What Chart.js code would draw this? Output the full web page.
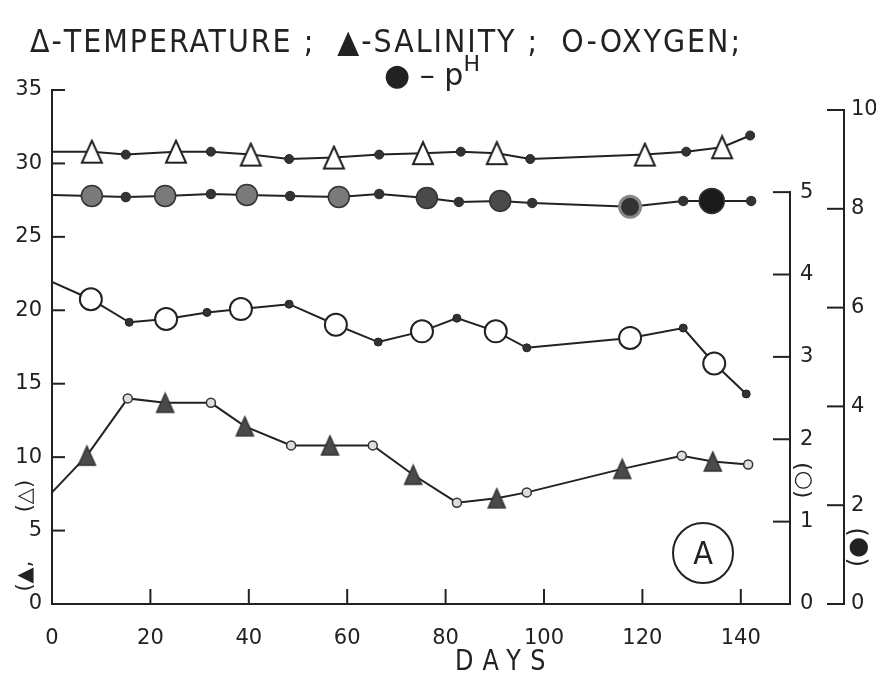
<!DOCTYPE html>
<html><head><meta charset="utf-8">
<script src="https://cdn.jsdelivr.net/npm/chart.js@4.4.0/dist/chart.umd.min.js"></script>
<style>
html,body{margin:0;padding:0;background:#fff;}
#wrap{position:relative;width:876px;height:673px;overflow:hidden;background:#fff;}
canvas{position:absolute;left:0;top:0;}
.t{position:absolute;color:#222;font-family:"Liberation Sans Narrow","DejaVu Sans Condensed","DejaVu Sans",sans-serif;white-space:nowrap;line-height:1;transform-origin:0 0;}
#circA{position:absolute;left:672px;top:522px;width:62px;height:62px;border:2px solid #222;border-radius:50%;box-sizing:border-box;
  font-family:"Liberation Sans Narrow","DejaVu Sans Condensed",sans-serif;font-size:32px;color:#222;text-align:center;line-height:58px;}
</style></head><body>
<div id="wrap">
<canvas id="c" width="876" height="673"></canvas>
<div class="t" id="leg1" style="left:30px;top:25px;font-size:32px;letter-spacing:2px;">Δ-TEMPERATURE ;&nbsp; ▲-SALINITY ;&nbsp; O-OXYGEN;</div>
<div class="t" id="leg2" style="left:384px;top:60px;font-size:30px;"><span style="font-size:30px;">●</span>&nbsp;– p<span style="font-size:22px;position:relative;top:-14px;">H</span></div>
<div class="t" id="days" style="left:455px;top:647px;font-size:28px;letter-spacing:10px;">DAYS</div>
<div id="circA">A</div>
</div>
<script>
// ---- data ----
const tempDays  = [0, 8.1, 15.0, 25.2, 32.3, 40.4, 48.2, 57.3, 66.5, 75.4, 83.1, 90.4, 97.2, 120.5, 128.9, 136.2, 141.9];
const tempValues = [30.8, 30.8, 30.6, 30.8, 30.8, 30.6, 30.3, 30.4, 30.6, 30.7, 30.8, 30.7, 30.3, 30.6, 30.8, 31.1, 31.9];

const salDays   = [0, 7.1, 15.4, 23.0, 32.3, 39.2, 48.6, 56.5, 65.2, 73.4, 82.3, 90.4, 96.5, 115.9, 128.0, 134.3, 141.5];
const salValues = [7.6, 10.1, 14.0, 13.7, 13.7, 12.1, 10.8, 10.8, 10.8, 8.8, 6.9, 7.2, 7.6, 9.2, 10.1, 9.7, 9.5];

const oxyDays   = [0, 7.9, 15.7, 23.2, 31.5, 38.4, 48.2, 57.7, 66.3, 75.2, 82.3, 90.2, 96.5, 117.5, 128.3, 134.6, 141.1];
const oxyValues = [3.91, 3.70, 3.42, 3.46, 3.54, 3.58, 3.64, 3.39, 3.18, 3.31, 3.47, 3.31, 3.11, 3.23, 3.35, 2.92, 2.55];

const phDays    = [0, 8.1, 15.0, 23.0, 32.3, 39.6, 48.4, 58.3, 66.5, 76.2, 82.7, 91.1, 97.6, 117.5, 128.3, 134.1, 142.1];
const phValues  = [8.28, 8.26, 8.24, 8.26, 8.30, 8.28, 8.26, 8.24, 8.30, 8.22, 8.14, 8.16, 8.12, 8.04, 8.16, 8.16, 8.16];

const dayTicks  = [0, 20, 40, 60, 80, 100, 120, 140];
const leftTicks = [0, 5, 10, 15, 20, 25, 30, 35];
const oxyTicks  = [0, 1, 2, 3, 4, 5];
const phTicks   = [0, 2, 4, 6, 8, 10];

// ---- styling helpers ----
const INK = '#222';
function makeTri(w, h, fill, stroke, lw) {
  const c = document.createElement('canvas');
  c.width = w + 4; c.height = h + 4;
  const g = c.getContext('2d');
  g.beginPath();
  g.moveTo(c.width / 2, 2); g.lineTo(c.width - 2, h + 2); g.lineTo(2, h + 2); g.closePath();
  g.fillStyle = fill; g.fill();
  g.lineWidth = lw; g.strokeStyle = stroke; g.lineJoin = 'miter'; g.stroke();
  return c;
}
const openTri = makeTri(20, 22, '#fff', INK, 2);
const solidTri = makeTri(17, 19, '#4a4a4a', '#333', 1.5);

const pts = (xs, ys) => xs.map((x, i) => ({ x: x, y: ys[i] }));
const big = i => i % 2 === 1;

const axisPlugin = {
  id: 'axisPlugin',
  beforeDatasetsDraw(chart) {
    const ctx = chart.ctx, a = chart.chartArea, s = chart.scales;
    ctx.save();
    ctx.strokeStyle = INK; ctx.lineWidth = 2; ctx.lineCap = 'square';
    const line = (x1, y1, x2, y2) => { ctx.beginPath(); ctx.moveTo(x1, y1); ctx.lineTo(x2, y2); ctx.stroke(); };
    // left axis
    const y = s.y;
    line(a.left, y.getPixelForValue(0), a.left, y.getPixelForValue(35));
    leftTicks.slice(1).forEach(v => { const p = y.getPixelForValue(v); line(a.left, p, a.left + 12, p); });
    // bottom axis
    const x = s.x;
    line(a.left, a.bottom, a.right, a.bottom);
    dayTicks.slice(1).forEach(v => { const p = x.getPixelForValue(v); line(p, a.bottom, p, a.bottom - 14); });
    // oxygen axis
    const o = s.yO, ox = o.left;
    line(ox, o.getPixelForValue(0), ox, o.getPixelForValue(5));
    oxyTicks.forEach(v => { const p = o.getPixelForValue(v); line(ox - 16, p, ox, p); });
    // pH axis
    const h = s.yP, hx = h.left;
    line(hx, h.getPixelForValue(0), hx, h.getPixelForValue(10));
    phTicks.forEach(v => { const p = h.getPixelForValue(v); line(hx - 16, p, hx, p); });
    ctx.restore();
  },
  afterDraw(chart) {
    const ctx = chart.ctx, s = chart.scales;
    const vtext = (txt, cx, cy, font) => {
      ctx.save(); ctx.translate(cx, cy); ctx.rotate(-Math.PI / 2);
      ctx.font = font; ctx.fillStyle = INK; ctx.textAlign = 'center'; ctx.textBaseline = 'middle';
      ctx.fillText(txt, 0, 0); ctx.restore();
    };
    vtext('(▲,', 26, s.y.getPixelForValue(1.9), '21px "DejaVu Sans"');
    vtext('(△)', 26, s.y.getPixelForValue(7.35), '21px "DejaVu Sans"');
    vtext('(○)', s.yO.left + 13, s.yO.getPixelForValue(1.5), '22px "DejaVu Sans"');
    vtext('(●)', s.yP.left + 15, s.yP.getPixelForValue(1.15), '24px "DejaVu Sans"');
  }
};

const tickFont = { family: 'DejaVu Sans', size: 21 };

new Chart(document.getElementById('c'), {
  type: 'line',
  data: {
    datasets: [
      {
        label: 'Temperature', yAxisID: 'y', data: pts(tempDays, tempValues),
        borderColor: INK, borderWidth: 2, tension: 0,
        pointStyle: c => big(c.dataIndex) ? openTri : 'circle',
        pointRadius: c => c.dataIndex === 0 ? 0 : (big(c.dataIndex) ? 10 : 4.5),
        pointBackgroundColor: '#333', pointBorderColor: INK, pointBorderWidth: 1
      },
      {
        label: 'Salinity', yAxisID: 'y', data: pts(salDays, salValues),
        borderColor: INK, borderWidth: 2, tension: 0,
        pointStyle: c => big(c.dataIndex) ? solidTri : 'circle',
        pointRadius: c => c.dataIndex === 0 ? 0 : (big(c.dataIndex) ? 10 : 4.5),
        pointBackgroundColor: '#ddd', pointBorderColor: '#333', pointBorderWidth: 1.5
      },
      {
        label: 'Oxygen', yAxisID: 'yO', data: pts(oxyDays, oxyValues),
        borderColor: INK, borderWidth: 2, tension: 0, pointStyle: 'circle',
        pointRadius: c => c.dataIndex === 0 ? 0 : (big(c.dataIndex) ? 11 : 4),
        pointBackgroundColor: c => big(c.dataIndex) ? '#fff' : '#333',
        pointBorderColor: INK, pointBorderWidth: c => big(c.dataIndex) ? 2 : 1
      },
      {
        label: 'pH', yAxisID: 'yP', data: pts(phDays, phValues),
        borderColor: INK, borderWidth: 2, tension: 0, pointStyle: 'circle',
        pointRadius: c => c.dataIndex === 0 ? 0 : (big(c.dataIndex) ? (c.dataIndex === 15 ? 12.5 : 10.5) : 4.5),
        pointBackgroundColor: c => !big(c.dataIndex) ? '#333' : (c.dataIndex <= 7 ? '#7a7a7a' : (c.dataIndex === 13 ? '#333' : (c.dataIndex === 15 ? '#1a1a1a' : '#4a4a4a'))),
        pointBorderColor: c => c.dataIndex === 13 ? '#888' : '#333',
        pointBorderWidth: c => c.dataIndex === 13 ? 3 : 1.5
      }
    ]
  },
  options: {
    responsive: false, animation: false, devicePixelRatio: 1,
    layout: { padding: { top: 90, left: 0, right: 0, bottom: 0 } },
    plugins: { legend: { display: false }, tooltip: { enabled: false } },
    scales: {
      x: {
        type: 'linear', position: 'bottom', min: 0, max: 150,
        afterBuildTicks: sc => { sc.ticks = dayTicks.map(v => ({ value: v })); },
        afterFit: sc => { sc.height = 69; },
        grid: { display: false, drawTicks: false }, border: { display: false },
        ticks: { font: tickFont, color: INK, padding: 22, maxRotation: 0, autoSkip: false }
      },
      y: {
        type: 'linear', position: 'left', min: 0, max: 35,
        afterBuildTicks: sc => { sc.ticks = leftTicks.map(v => ({ value: v })); },
        afterFit: sc => { sc.width = 52; },
        grid: { display: false, drawTicks: false }, border: { display: false },
        ticks: { font: tickFont, color: INK, padding: 10 }
      },
      yO: {
        type: 'linear', position: 'right', weight: 0, min: 0, max: 6.24,
        afterBuildTicks: sc => { sc.ticks = oxyTicks.map(v => ({ value: v })); },
        afterFit: sc => { sc.width = 54; },
        grid: { display: false, drawTicks: false }, border: { display: false },
        ticks: { font: tickFont, color: INK, padding: 10 }
      },
      yP: {
        type: 'linear', position: 'right', weight: 1, min: 0, max: 10.405,
        afterBuildTicks: sc => { sc.ticks = phTicks.map(v => ({ value: v })); },
        afterFit: sc => { sc.width = 32; },
        grid: { display: false, drawTicks: false }, border: { display: false },
        ticks: { font: tickFont, color: INK, padding: 7 }
      }
    }
  },
  plugins: [axisPlugin]
});

// fit the header text widths to the reference layout
function fitWidth(id, w) {
  const el = document.getElementById(id);
  const cur = el.getBoundingClientRect().width;
  el.style.transform = 'scaleX(' + (w / cur) + ')';
}
fitWidth('leg1', 712);
fitWidth('leg2', 96);
fitWidth('days', 100);
</script>
</body></html>
